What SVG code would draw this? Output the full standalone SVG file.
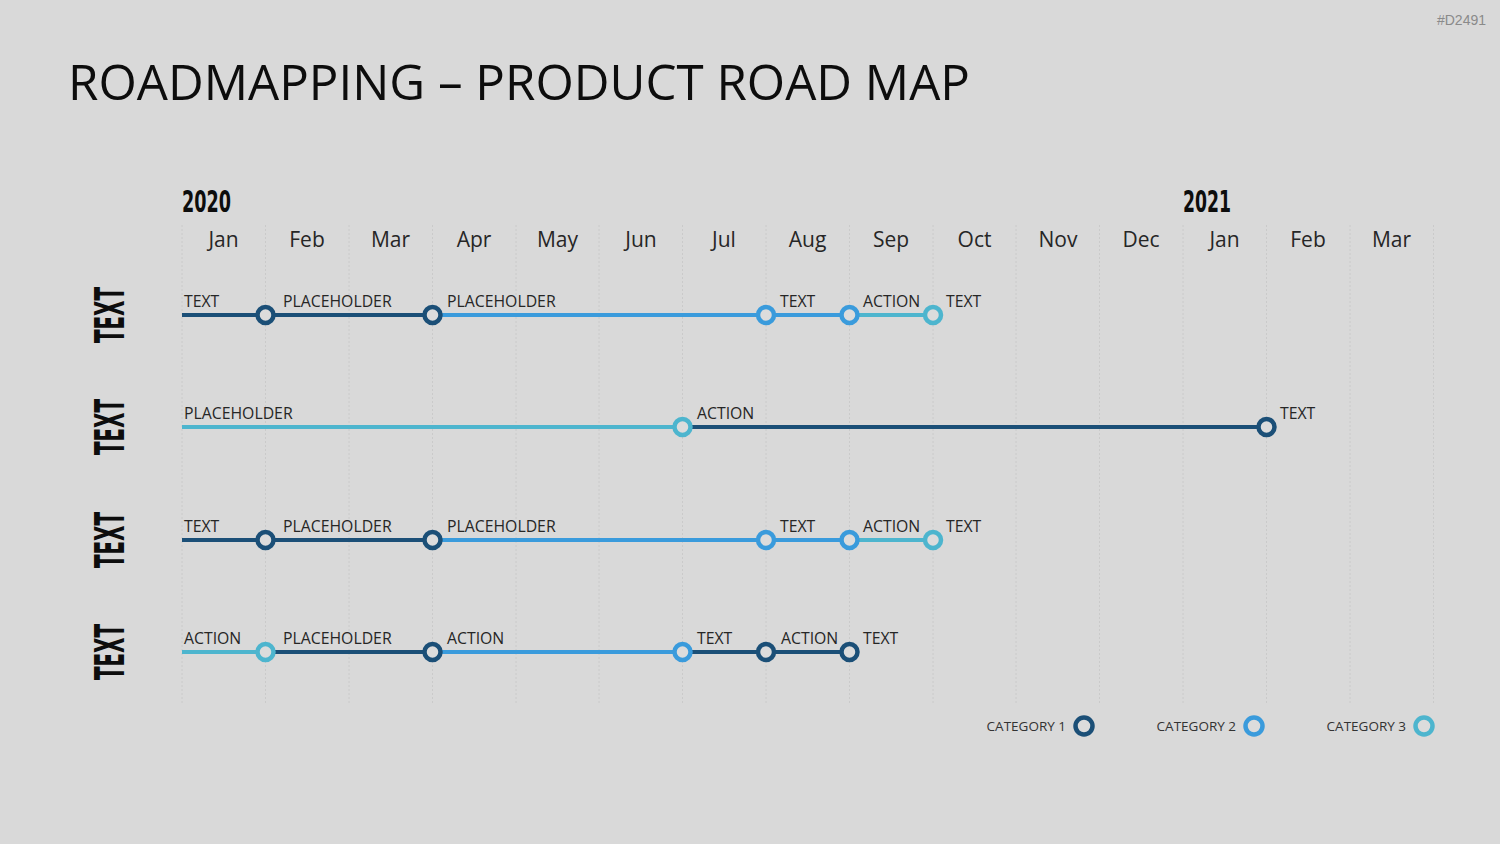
<svg xmlns="http://www.w3.org/2000/svg" width="1500" height="844" viewBox="0 0 1500 844">
<defs>
<style>
.bg{fill:#D9D9D9}
.grid line{stroke:#CACACA;stroke-width:1;stroke-dasharray:2 2}
.lbl{font-family:"Open Sans","Liberation Sans",sans-serif;font-size:15.8px;fill:#262626}
.mon{font-family:"Open Sans","Liberation Sans",sans-serif;font-size:21px;fill:#262626;text-anchor:middle}
.yr{font-family:"DejaVu Sans","Liberation Sans",sans-serif;font-weight:bold;font-stretch:condensed;font-size:30px;fill:#0D0D0D}
.row{font-family:"DejaVu Sans","Liberation Sans",sans-serif;font-weight:bold;font-stretch:condensed;font-size:40px;fill:#0D0D0D}
.c1{stroke:#1B4F77}
.c2{stroke:#3A9BDC}
.c3{stroke:#4DB5CE}
.seg{stroke-width:4;fill:none}
.dot{stroke-width:4.5;fill:#DCDCDC}
.leg{font-family:"Open Sans","Liberation Sans",sans-serif;font-size:13.5px;fill:#333333;text-anchor:end}
</style>
</defs>
<rect class="bg" x="0" y="0" width="1500" height="844"/>
<text x="1486" y="25" text-anchor="end" font-family="'Liberation Sans',sans-serif" font-size="14" fill="#8A8A8A">#D2491</text>
<text x="68" y="100" font-family="'Open Sans','Liberation Sans',sans-serif" font-size="50" fill="#0D0D0D" textLength="902" lengthAdjust="spacingAndGlyphs">ROADMAPPING – PRODUCT ROAD MAP</text>

<g id="grid" class="grid">
<line x1="182" y1="225" x2="182" y2="703"/>
<line x1="265.5" y1="225" x2="265.5" y2="703"/>
<line x1="349" y1="225" x2="349" y2="703"/>
<line x1="432.5" y1="225" x2="432.5" y2="703"/>
<line x1="516" y1="225" x2="516" y2="703"/>
<line x1="599" y1="225" x2="599" y2="703"/>
<line x1="682.5" y1="225" x2="682.5" y2="703"/>
<line x1="766" y1="225" x2="766" y2="703"/>
<line x1="849.5" y1="225" x2="849.5" y2="703"/>
<line x1="933" y1="225" x2="933" y2="703"/>
<line x1="1016" y1="225" x2="1016" y2="703"/>
<line x1="1099.5" y1="225" x2="1099.5" y2="703"/>
<line x1="1183" y1="225" x2="1183" y2="703"/>
<line x1="1266.5" y1="225" x2="1266.5" y2="703"/>
<line x1="1350" y1="225" x2="1350" y2="703"/>
<line x1="1433.5" y1="225" x2="1433.5" y2="703"/>
</g>

<g id="years">
<text class="yr" x="182" y="212" textLength="49" lengthAdjust="spacingAndGlyphs">2020</text>
<text class="yr" x="1183" y="212" textLength="48" lengthAdjust="spacingAndGlyphs">2021</text>
</g>
<g id="months">
<text class="mon" x="223.5" y="247">Jan</text>
<text class="mon" x="307" y="247">Feb</text>
<text class="mon" x="390.5" y="247">Mar</text>
<text class="mon" x="474" y="247">Apr</text>
<text class="mon" x="557.5" y="247">May</text>
<text class="mon" x="641" y="247">Jun</text>
<text class="mon" x="724" y="247">Jul</text>
<text class="mon" x="807.5" y="247">Aug</text>
<text class="mon" x="891" y="247">Sep</text>
<text class="mon" x="974.5" y="247">Oct</text>
<text class="mon" x="1058" y="247">Nov</text>
<text class="mon" x="1141" y="247">Dec</text>
<text class="mon" x="1224.5" y="247">Jan</text>
<text class="mon" x="1308" y="247">Feb</text>
<text class="mon" x="1391.5" y="247">Mar</text>
</g>

<g id="row-labels">
<text class="row" transform="translate(124,315) rotate(-90)" text-anchor="middle" textLength="56" lengthAdjust="spacingAndGlyphs">TEXT</text>
<text class="row" transform="translate(124,427) rotate(-90)" text-anchor="middle" textLength="56" lengthAdjust="spacingAndGlyphs">TEXT</text>
<text class="row" transform="translate(124,540) rotate(-90)" text-anchor="middle" textLength="56" lengthAdjust="spacingAndGlyphs">TEXT</text>
<text class="row" transform="translate(124,652) rotate(-90)" text-anchor="middle" textLength="56" lengthAdjust="spacingAndGlyphs">TEXT</text>
</g>

<g id="connectors">
<line class="seg c1" x1="182" y1="315" x2="432" y2="315"/>
<line class="seg c2" x1="432" y1="315" x2="849" y2="315"/>
<line class="seg c3" x1="849" y1="315" x2="932" y2="315"/>

<line class="seg c3" x1="182" y1="427" x2="682" y2="427"/>
<line class="seg c1" x1="682" y1="427" x2="1266" y2="427"/>

<line class="seg c1" x1="182" y1="540" x2="432" y2="540"/>
<line class="seg c2" x1="432" y1="540" x2="849" y2="540"/>
<line class="seg c3" x1="849" y1="540" x2="932" y2="540"/>

<line class="seg c3" x1="182" y1="652" x2="265" y2="652"/>
<line class="seg c1" x1="265" y1="652" x2="432" y2="652"/>
<line class="seg c2" x1="432" y1="652" x2="682" y2="652"/>
<line class="seg c1" x1="682" y1="652" x2="849" y2="652"/>
</g>

<g id="row1">
<circle class="dot c1" cx="265.5" cy="315" r="8"/>
<circle class="dot c1" cx="432.5" cy="315" r="8"/>
<circle class="dot c2" cx="766" cy="315" r="8"/>
<circle class="dot c2" cx="849.5" cy="315" r="8"/>
<circle class="dot c3" cx="933" cy="315" r="8"/>
<text class="lbl" x="184" y="307">TEXT</text>
<text class="lbl" x="283" y="307">PLACEHOLDER</text>
<text class="lbl" x="447" y="307">PLACEHOLDER</text>
<text class="lbl" x="780" y="307">TEXT</text>
<text class="lbl" x="863" y="307">ACTION</text>
<text class="lbl" x="946" y="307">TEXT</text>
</g>

<g id="row2">
<circle class="dot c3" cx="682.5" cy="427" r="8"/>
<circle class="dot c1" cx="1266.5" cy="427" r="8"/>
<text class="lbl" x="184" y="419">PLACEHOLDER</text>
<text class="lbl" x="697" y="419">ACTION</text>
<text class="lbl" x="1280" y="419">TEXT</text>
</g>

<g id="row3">
<circle class="dot c1" cx="265.5" cy="540" r="8"/>
<circle class="dot c1" cx="432.5" cy="540" r="8"/>
<circle class="dot c2" cx="766" cy="540" r="8"/>
<circle class="dot c2" cx="849.5" cy="540" r="8"/>
<circle class="dot c3" cx="933" cy="540" r="8"/>
<text class="lbl" x="184" y="532">TEXT</text>
<text class="lbl" x="283" y="532">PLACEHOLDER</text>
<text class="lbl" x="447" y="532">PLACEHOLDER</text>
<text class="lbl" x="780" y="532">TEXT</text>
<text class="lbl" x="863" y="532">ACTION</text>
<text class="lbl" x="946" y="532">TEXT</text>
</g>

<g id="row4">
<circle class="dot c3" cx="265.5" cy="652" r="8"/>
<circle class="dot c1" cx="432.5" cy="652" r="8"/>
<circle class="dot c2" cx="682.5" cy="652" r="8"/>
<circle class="dot c1" cx="766" cy="652" r="8"/>
<circle class="dot c1" cx="849.5" cy="652" r="8"/>
<text class="lbl" x="184" y="644">ACTION</text>
<text class="lbl" x="283" y="644">PLACEHOLDER</text>
<text class="lbl" x="447" y="644">ACTION</text>
<text class="lbl" x="697" y="644">TEXT</text>
<text class="lbl" x="781" y="644">ACTION</text>
<text class="lbl" x="863" y="644">TEXT</text>
</g>

<g id="legend">
<text class="leg" x="1066" y="731">CATEGORY 1</text>
<circle class="dot c1" cx="1084" cy="726" r="8.5"/>
<text class="leg" x="1236" y="731">CATEGORY 2</text>
<circle class="dot c2" cx="1254" cy="726" r="8.5"/>
<text class="leg" x="1406" y="731">CATEGORY 3</text>
<circle class="dot c3" cx="1424" cy="726" r="8.5"/>
</g>
</svg>
